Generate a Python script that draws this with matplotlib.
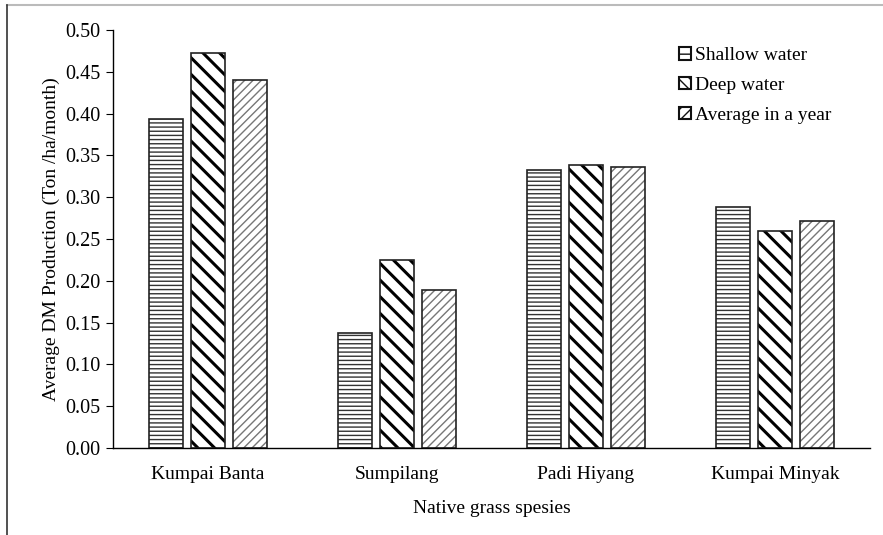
import numpy as np
import matplotlib.pyplot as plt
from matplotlib.patches import Patch
from matplotlib.lines import Line2D

# Данные
species = ["Kumpai Banta", "Sumpilang", "Padi Hiyang", "Kumpai Minyak"]
shallow = [0.394, 0.138, 0.333, 0.288]
deep = [0.472, 0.225, 0.338, 0.260]
average = [0.440, 0.189, 0.336, 0.271]
series_names = ["Shallow water", "Deep water", "Average in a year"]
yticks = [0.00, 0.05, 0.10, 0.15, 0.20, 0.25, 0.30, 0.35, 0.40, 0.45, 0.50]

plt.rcParams['font.family'] = ['Liberation Serif', 'DejaVu Serif']

fig = plt.figure(figsize=(8.83, 5.35), dpi=100)
ax = fig.add_axes([0.128, 0.1626, 0.857, 0.7814])

x = np.arange(len(species))
w = 0.18
step = 0.222

styles = [
    dict(hatch='----', hcolor='#333333', hlw=1.0, lhatch='--', llw=1.5),
    dict(hatch='\\\\', hcolor='#000000', hlw=2.2, lhatch='\\\\\\', llw=2.5),
    dict(hatch='////', hcolor='#777777', hlw=1.0, lhatch='///', llw=1.2),
]

handles = []
for i, (vals, st) in enumerate(zip([shallow, deep, average], styles)):
    pos = x + (i - 1) * step
    with plt.rc_context({'hatch.linewidth': st['hlw'], 'hatch.color': st['hcolor']}):
        bars = ax.bar(pos, vals, width=w, color='white', edgecolor=st['hcolor'],
                      hatch=st['hatch'], linewidth=0)
        for b in bars:
            try:
                b.set_hatch_linewidth(st['hlw'])
            except AttributeError:
                pass
    ax.bar(pos, vals, width=w, color='none', edgecolor='#222222', linewidth=1.2)
    with plt.rc_context({'hatch.linewidth': st['llw']}):
        h = Patch(facecolor='white', edgecolor='#111111', hatch=st['lhatch'],
                  linewidth=1.5)
        try:
            h.set_hatch_linewidth(st['llw'])
        except AttributeError:
            pass
    handles.append(h)

ax.set_xlim(-0.5, len(species) - 0.5)
ax.set_ylim(0, 0.5)
ax.set_yticks(yticks)
ax.set_yticklabels([f"{v:.2f}" for v in yticks], fontsize=14.5)
ax.set_xticks(x)
ax.set_xticklabels(species, fontsize=14)
ax.tick_params(axis='x', length=0, pad=13)
ax.tick_params(axis='y', length=5, direction='out', pad=4)
for s in ['top', 'right']:
    ax.spines[s].set_visible(False)
ax.spines['left'].set_linewidth(1.0)
ax.spines['bottom'].set_linewidth(1.0)

ax.set_ylabel("Average DM Production (Ton /ha/month)", fontsize=14, labelpad=4)
ax.set_xlabel("Native grass spesies", fontsize=14, labelpad=12)

ax.legend(handles, series_names, loc='upper right', bbox_to_anchor=(0.972, 1.0),
          frameon=False, fontsize=14, handlelength=0.6, handleheight=0.6,
          handletextpad=0.2, labelspacing=0.65)

# рамка рисунка
fig.add_artist(Line2D([0.008, 1.0], [0.99, 0.99], transform=fig.transFigure,
                      color='#bbbbbb', linewidth=1.5))
fig.add_artist(Line2D([0.008, 0.008], [0.0, 0.99], transform=fig.transFigure,
                      color='#333333', linewidth=1.2))

fig.savefig("out.png", dpi=100)
